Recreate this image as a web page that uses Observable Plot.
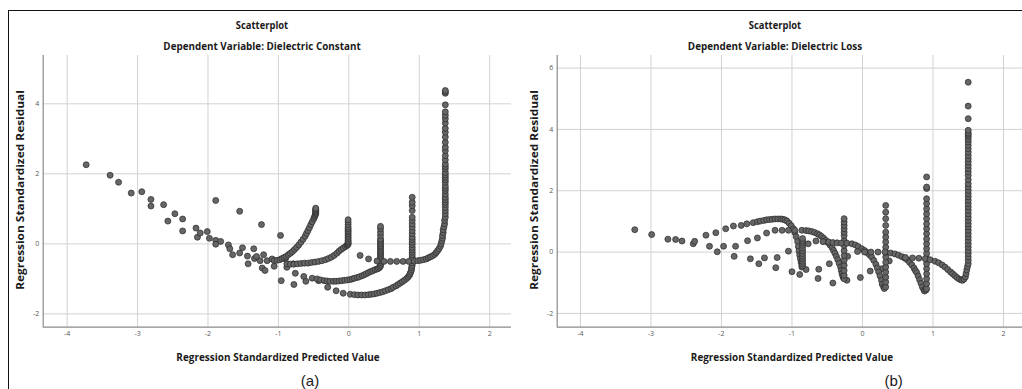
<!DOCTYPE html>
<html><head><meta charset="utf-8">
<script src="https://cdn.jsdelivr.net/npm/d3@7"></script>
<script src="https://cdn.jsdelivr.net/npm/@observablehq/plot@0.6"></script>
<style>
body{margin:0;background:#fff;}
#wrap{position:relative;width:1022px;height:389px;overflow:hidden;font-family:"Open Sans",sans-serif;}
.panel{position:absolute;top:0;}
.lbl{position:absolute;white-space:nowrap;line-height:1;color:#1a1a1a;}
#frame{position:absolute;left:8px;top:10px;width:1100px;height:400px;border-top:1.5px solid #111;border-left:1.5px solid #111;}
</style></head>
<body><div id="wrap"><div id="frame"></div></div>
<script>
// ---------- Panel (a): Dependent Variable: Dielectric Constant ----------
const xTicks = [-4,-3,-2,-1,0,1,2];
const aYTicks = [-2,0,2,4];
const bYTicks = [-2,0,2,4,6];

const aScatter = [[-3.73,2.26],[-3.39,1.96],[-3.27,1.76],[-3.09,1.45],[-2.94,1.49],[-2.81,1.27],[-2.81,1.08],[-2.63,1.12],[-2.47,0.86],[-2.57,0.65],[-2.36,0.71],[-2.36,0.37],[-2.17,0.45],[-2.15,0.19],[-2.11,0.31],[-2.01,0.35],[-1.98,0.16],[-1.89,0.10],[-1.89,-0.01],[-1.82,0.07],[-1.89,1.24],[-1.71,-0.03],[-1.69,-0.14],[-1.65,-0.31],[-1.55,-0.26],[-1.51,-0.11],[-1.55,0.93],[-1.44,-0.35],[-1.43,-0.57],[-1.35,-0.14],[-1.34,-0.42],[-1.24,0.55],[-1.23,-0.69],[-1.19,-0.76],[-1.21,-0.31],[-1.16,-0.48],[-0.97,0.24],[-0.96,-1.05],[-1.06,-0.64],[-0.78,-1.16],[-0.76,-0.84],[-0.64,-0.93],[-0.61,-1.07],[-0.52,-0.98],[-0.43,-1.05],[0.16,-0.33],[0.28,-0.43],[-0.90,-0.43],[-1.09,-0.43],[-0.88,-0.67],[-0.79,-0.57],[-1.31,-0.36],[-1.26,-0.48]];
const aCurve1 = [[-1.06,-0.48],[-1.02,-0.47],[-0.98,-0.45],[-0.95,-0.42],[-0.92,-0.39],[-0.89,-0.36],[-0.86,-0.31],[-0.83,-0.27],[-0.80,-0.22],[-0.77,-0.16],[-0.74,-0.10],[-0.71,-0.03],[-0.68,0.05],[-0.65,0.13],[-0.62,0.22],[-0.60,0.30],[-0.58,0.38],[-0.56,0.46],[-0.54,0.55],[-0.52,0.63],[-0.50,0.71],[-0.49,0.76],[-0.48,0.80],[-0.475,0.84],[-0.47,0.87],[-0.47,0.90],[-0.47,0.93],[-0.47,0.96],[-0.47,0.99],[-0.47,1.02]];
const aCurve2 = [[-0.88,-0.57],[-0.83,-0.58],[-0.78,-0.58],[-0.73,-0.57],[-0.68,-0.56],[-0.63,-0.55],[-0.58,-0.55],[-0.53,-0.53],[-0.48,-0.52],[-0.43,-0.50],[-0.38,-0.48],[-0.33,-0.45],[-0.29,-0.42],[-0.25,-0.38],[-0.21,-0.33],[-0.17,-0.27],[-0.14,-0.21],[-0.11,-0.16],[-0.08,-0.12],[-0.05,-0.08],[-0.03,-0.05],[-0.02,-0.03],[-0.01,-0.01],[-0.01,0.02],[-0.01,0.05],[-0.01,0.09],[-0.01,0.14],[-0.01,0.19],[-0.01,0.24],[-0.01,0.29],[-0.01,0.34],[-0.01,0.38],[-0.01,0.43],[-0.01,0.48],[-0.01,0.55],[-0.01,0.62],[-0.01,0.69]];
const aCurve3 = [[-0.45,-1.00],[-0.40,-1.03],[-0.35,-1.05],[-0.31,-1.06],[-0.27,-1.07],[-0.22,-1.07],[-0.18,-1.07],[-0.14,-1.06],[-0.10,-1.05],[-0.06,-1.04],[-0.02,-1.03],[0.02,-1.02],[0.05,-1.00],[0.08,-0.98],[0.12,-0.96],[0.15,-0.94],[0.19,-0.91],[0.22,-0.88],[0.25,-0.85],[0.28,-0.82],[0.31,-0.79],[0.34,-0.77],[0.37,-0.74],[0.40,-0.72],[0.42,-0.70],[0.44,-0.67],[0.45,-0.63],[0.45,-0.58],[0.45,-0.53],[0.45,-0.48],[0.45,-0.43],[0.45,-0.38],[0.45,-0.33],[0.45,-0.28],[0.45,-0.24],[0.45,-0.19],[0.45,-0.14],[0.45,-0.09],[0.45,-0.05],[0.45,0.0],[0.45,0.05],[0.45,0.10],[0.45,0.14],[0.45,0.24],[0.45,0.33],[0.45,0.43],[0.45,0.50]];
const aCurve4 = [[-0.30,-1.24],[-0.18,-1.34],[-0.08,-1.41],[0.02,-1.44],[0.08,-1.45],[0.13,-1.46],[0.18,-1.46],[0.23,-1.46],[0.28,-1.45],[0.32,-1.44],[0.36,-1.43],[0.40,-1.41],[0.44,-1.39],[0.48,-1.37],[0.52,-1.34],[0.56,-1.31],[0.60,-1.28],[0.63,-1.24],[0.67,-1.20],[0.70,-1.16],[0.73,-1.12],[0.76,-1.08],[0.79,-1.04],[0.82,-0.99],[0.84,-0.95],[0.86,-0.90],[0.87,-0.85],[0.88,-0.80],[0.89,-0.74],[0.89,-0.68],[0.90,-0.62],[0.90,-0.55],[0.90,-0.48],[0.90,-0.42],[0.90,-0.38],[0.90,-0.31],[0.90,-0.24],[0.90,-0.17],[0.90,-0.10],[0.90,-0.02],[0.90,0.05],[0.90,0.12],[0.90,0.19],[0.90,0.29],[0.90,0.38],[0.90,0.48],[0.90,0.57],[0.90,0.67],[0.90,0.76],[0.90,0.95],[0.90,1.09],[0.90,1.19],[0.90,1.33]];
const aCurve5 = [[0.40,-0.49],[0.50,-0.50],[0.59,-0.50],[0.68,-0.50],[0.77,-0.50],[0.85,-0.50],[0.93,-0.49],[0.98,-0.48],[1.02,-0.47],[1.06,-0.45],[1.10,-0.43],[1.13,-0.40],[1.16,-0.37],[1.19,-0.34],[1.22,-0.30],[1.24,-0.25],[1.26,-0.20],[1.28,-0.14],[1.30,-0.07],[1.31,0.00],[1.32,0.08],[1.33,0.16],[1.33,0.24],[1.34,0.32],[1.34,0.40],[1.35,0.48],[1.36,0.57],[1.36,0.67],[1.37,0.76],[1.37,0.86],[1.37,0.95],[1.37,1.04],[1.37,1.12],[1.37,1.19],[1.37,1.26],[1.37,1.33],[1.37,1.42],[1.37,1.52],[1.37,1.59],[1.37,1.66],[1.37,1.76],[1.37,1.83],[1.37,1.90],[1.37,1.97],[1.37,2.04],[1.37,2.14],[1.37,2.21],[1.37,2.28],[1.37,2.40],[1.37,2.52],[1.37,2.66],[1.37,2.76],[1.37,2.90],[1.37,3.05],[1.37,3.19],[1.37,3.30],[1.37,3.45],[1.37,3.57],[1.37,3.67],[1.37,3.77],[1.37,3.97],[1.37,4.30],[1.37,4.34],[1.37,4.38]];

// ---------- Panel (b): Dependent Variable: Dielectric Loss ----------
const bScatter = [[-3.23,0.73],[-2.99,0.57],[-2.76,0.42],[-2.65,0.41],[-2.56,0.36],[-2.40,0.27],[-2.38,0.35],[-2.22,0.55],[-2.17,0.19],[-2.08,0.63],[-2.06,0.01],[-1.97,0.19],[-1.80,0.19],[-1.82,-0.14],[-1.63,0.37],[-1.59,-0.22],[-1.49,0.46],[-1.47,-0.38],[-1.39,-0.19],[-1.36,0.62],[-1.23,-0.51],[-1.21,-0.18],[-1.05,0.03],[-1.00,-0.64],[-0.89,-0.73],[-0.80,-0.57],[-0.77,0.27],[-0.66,0.36],[-0.63,-0.86],[-0.62,-0.56],[-0.47,-0.38],[-0.42,-1.01],[-0.22,-0.92],[-0.21,-0.14],[-0.03,-0.83],[0.11,-0.62],[0.28,-0.54],[0.38,-0.29]];
const bCurve1 = [[-1.94,0.76],[-1.83,0.85],[-1.72,0.87],[-1.64,0.92],[-1.55,0.96],[-1.49,0.99],[-1.45,1.01],[-1.40,1.03],[-1.36,1.05],[-1.32,1.06],[-1.28,1.07],[-1.24,1.08],[-1.20,1.08],[-1.16,1.08],[-1.13,1.07],[-1.10,1.05],[-1.07,1.01],[-1.04,0.94],[-1.01,0.86],[-0.98,0.76],[-0.96,0.64],[-0.94,0.50],[-0.92,0.34],[-0.91,0.18],[-0.90,0.03],[-0.89,-0.10],[-0.88,-0.22],[-0.87,-0.33],[-0.86,-0.42],[-0.86,-0.49],[-0.85,-0.45],[-0.85,-0.38],[-0.85,-0.30],[-0.85,-0.22],[-0.85,-0.14],[-0.85,-0.05],[-0.85,0.04],[-0.85,0.13],[-0.85,0.22],[-0.85,0.30],[-0.85,0.37],[-0.85,0.44]];
const bCurve2 = [[-1.24,0.71],[-1.14,0.71],[-1.05,0.71],[-0.96,0.71],[-0.86,0.71],[-0.80,0.70],[-0.76,0.69],[-0.72,0.67],[-0.68,0.64],[-0.64,0.60],[-0.61,0.56],[-0.58,0.51],[-0.55,0.45],[-0.52,0.38],[-0.49,0.31],[-0.46,0.23],[-0.43,0.14],[-0.41,0.05],[-0.39,-0.04],[-0.37,-0.14],[-0.35,-0.25],[-0.33,-0.37],[-0.31,-0.49],[-0.30,-0.60],[-0.29,-0.70],[-0.28,-0.78],[-0.27,-0.84],[-0.26,-0.87],[-0.26,-0.76],[-0.26,-0.60],[-0.26,-0.43],[-0.26,-0.27],[-0.26,-0.11],[-0.26,0.05],[-0.26,0.22],[-0.26,0.38],[-0.26,0.54],[-0.26,0.65],[-0.26,0.76],[-0.26,0.87],[-0.26,0.98],[-0.26,1.09]];
const bCurve3 = [[-0.56,0.34],[-0.48,0.33],[-0.42,0.31],[-0.36,0.30],[-0.30,0.29],[-0.22,0.29],[-0.15,0.27],[-0.10,0.23],[-0.06,0.18],[-0.01,0.11],[0.03,0.05],[0.07,-0.02],[0.10,-0.09],[0.13,-0.16],[0.16,-0.27],[0.19,-0.40],[0.21,-0.52],[0.23,-0.65],[0.25,-0.78],[0.27,-0.92],[0.28,-1.05],[0.30,-1.14],[0.31,-1.19],[0.33,-1.14],[0.33,-0.98],[0.33,-0.82],[0.33,-0.65],[0.33,-0.49],[0.33,-0.33],[0.33,-0.16],[0.33,0.0],[0.33,0.16],[0.33,0.33],[0.33,0.49],[0.33,0.65],[0.33,0.87],[0.33,1.09],[0.33,1.30],[0.33,1.52]];
const bCurve4 = [[-0.07,0.02],[0.03,0.0],[0.12,0.0],[0.22,0.0],[0.32,0.0],[0.40,-0.03],[0.46,-0.06],[0.51,-0.10],[0.56,-0.15],[0.60,-0.20],[0.64,-0.26],[0.67,-0.34],[0.70,-0.42],[0.73,-0.52],[0.75,-0.60],[0.77,-0.67],[0.79,-0.78],[0.81,-0.90],[0.83,-1.02],[0.85,-1.14],[0.87,-1.23],[0.88,-1.27],[0.90,-1.24],[0.91,-1.20],[0.91,-1.03],[0.91,-0.87],[0.91,-0.71],[0.91,-0.54],[0.91,-0.38],[0.91,-0.22],[0.91,-0.05],[0.91,0.11],[0.91,0.27],[0.91,0.43],[0.91,0.60],[0.91,0.76],[0.91,0.92],[0.91,1.09],[0.91,1.25],[0.91,1.41],[0.91,1.58],[0.91,1.74],[0.91,2.07],[0.91,2.12],[0.91,2.45]];
const bCurve5 = [[0.61,-0.18],[0.71,-0.19],[0.80,-0.20],[0.89,-0.22],[0.96,-0.25],[1.03,-0.30],[1.08,-0.35],[1.13,-0.42],[1.17,-0.49],[1.21,-0.57],[1.25,-0.65],[1.28,-0.71],[1.31,-0.77],[1.34,-0.83],[1.37,-0.88],[1.40,-0.91],[1.42,-0.92],[1.44,-0.88],[1.46,-0.81],[1.47,-0.70],[1.48,-0.58],[1.49,-0.47],[1.50,-0.38],[1.50,-0.27],[1.50,-0.16],[1.50,-0.05],[1.50,0.05],[1.50,0.16],[1.50,0.27],[1.50,0.38],[1.50,0.49],[1.50,0.60],[1.50,0.71],[1.50,0.82],[1.50,0.92],[1.50,1.03],[1.50,1.14],[1.50,1.25],[1.50,1.36],[1.50,1.47],[1.50,1.58],[1.50,1.69],[1.50,1.80],[1.50,1.90],[1.50,2.01],[1.50,2.12],[1.50,2.23],[1.50,2.36],[1.50,2.50],[1.50,2.61],[1.50,2.72],[1.50,2.83],[1.50,2.94],[1.50,3.04],[1.50,3.15],[1.50,3.26],[1.50,3.37],[1.50,3.48],[1.50,3.59],[1.50,3.68],[1.50,3.77],[1.50,3.83],[1.50,3.88],[1.50,3.97],[1.50,4.35],[1.50,4.76],[1.50,5.54]];

const titleText = "Scatterplot";
const aSubtitle = "Dependent Variable: Dielectric Constant";
const bSubtitle = "Dependent Variable: Dielectric Loss";
const xTitle = "Regression Standardized Predicted Value";
const yTitle = "Regression Standardized Residual";

const wrap = document.getElementById("wrap");

function makePanel(points, cfg) {
  const p = Plot.plot({
    width: 511, height: 389,
    marginLeft: cfg.marginLeft, marginRight: 0, marginTop: 55, marginBottom: 62.3,
    x: {domain: cfg.xDomain, ticks: xTicks, tickFormat: d => String(d), tickSize: 0, tickPadding: 4, label: null},
    y: {domain: cfg.yDomain, ticks: cfg.yTicks, tickFormat: d => String(d), tickSize: 0, tickPadding: 4, label: null},
    style: {fontSize: "7px", color: "#5a5a5a", fontFamily: "Open Sans, sans-serif", background: "transparent", overflow: "visible"},
    marks: [
      Plot.gridX(xTicks, {stroke: "#d2d2d2", strokeOpacity: 1, strokeWidth: 1}),
      Plot.gridY(cfg.yTicks, {stroke: "#d2d2d2", strokeOpacity: 1, strokeWidth: 1}),
      Plot.ruleX([cfg.xDomain[0]], {stroke: "#8a8a8a", strokeWidth: 1.2}),
      Plot.ruleY([cfg.yDomain[0]], {stroke: "#8a8a8a", strokeWidth: 1.2}),
      Plot.dot(points, {x: d => d[0], y: d => d[1], r: 3, fill: "#666", fillOpacity: 1, stroke: "#2a2a2a", strokeWidth: 0.7})
    ]
  });
  p.classList.add("panel");
  p.style.left = cfg.left + "px";
  wrap.appendChild(p);
}

makePanel([...aScatter, ...aCurve1, ...aCurve2, ...aCurve3, ...aCurve4, ...aCurve5],
  {left: 0, marginLeft: 42.7, xDomain: [-4.34, 2.31], yDomain: [-2.38, 5.38], yTicks: aYTicks});
makePanel([...bScatter, ...bCurve1, ...bCurve2, ...bCurve3, ...bCurve4, ...bCurve5],
  {left: 511, marginLeft: 45.7, xDomain: [-4.33, 2.27], yDomain: [-2.45, 6.41], yTicks: bYTicks});

function label(txt, cx, cy, width, size, weight, rotate, family) {
  const s = document.createElement("span");
  s.className = "lbl";
  s.textContent = txt;
  s.style.fontSize = size + "px";
  s.style.fontWeight = weight;
  if (family) s.style.fontFamily = family;
  wrap.appendChild(s);
  const w = s.offsetWidth;
  const k = width ? width / w : 1;
  s.style.left = cx + "px";
  s.style.top = cy + "px";
  s.style.transform = `translate(-50%,-50%) ${rotate ? "rotate(-90deg) " : ""}scaleX(${k})`;
}

label(titleText, 262, 24, 52, 11, 700);
label(aSubtitle, 261.7, 45, 197, 11, 700);
label(xTitle, 278, 356, 203, 11, 700);
label(yTitle, 19, 190, 200, 11, 700, true);
label("(a)", 310, 380, null, 15, 400, false, "Liberation Sans, Arial, sans-serif");

label(titleText, 775.3, 24, 52, 11, 700);
label(bSubtitle, 775.2, 45, 174, 11, 700);
label(xTitle, 792.2, 356, 202, 11, 700);
label(yTitle, 532.7, 190, 200, 11, 700, true);
label("(b)", 893.7, 380, null, 15, 400, false, "Liberation Sans, Arial, sans-serif");
</script>
</body></html>
